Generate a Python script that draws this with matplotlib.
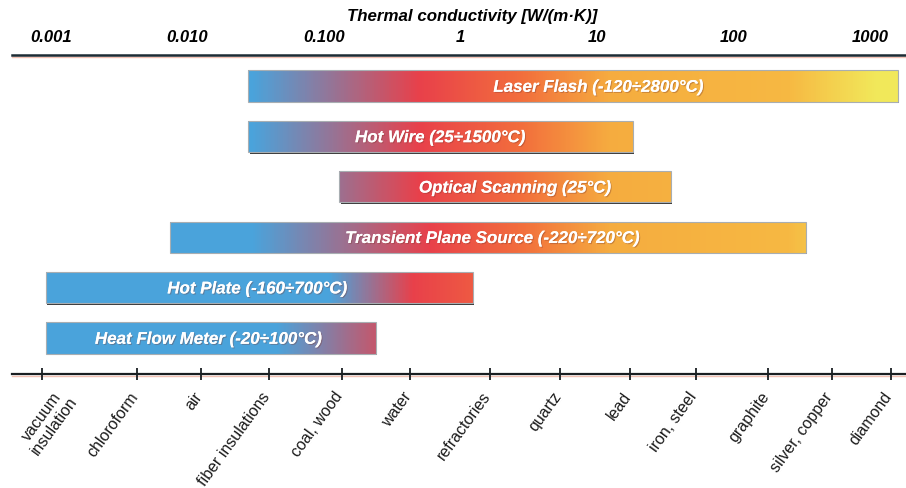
import numpy as np
import matplotlib
matplotlib.use("Agg")
import matplotlib.pyplot as plt
from matplotlib.colors import ListedColormap, to_rgb
from matplotlib.patches import Rectangle
import matplotlib.transforms as mtransforms
import matplotlib.patheffects as pe

# ---------------- data ----------------
methods = ["Laser Flash (-120÷2800°C)", "Hot Wire (25÷1500°C)",
           "Optical Scanning (25°C)", "Transient Plane Source (-220÷720°C)",
           "Hot Plate (-160÷700°C)", "Heat Flow Meter (-20÷100°C)"]
k_low = [0.028, 0.028, 0.13, 0.0075, 0.00092, 0.00092]
k_high = [1610, 18.4, 35, 340, 1.24, 0.24]

top_ticks = [0.001, 0.01, 0.1, 1, 10, 100, 1000]
top_labels = ["0.001", "0.010", "0.100", "1", "10", "100", "1000"]

materials = ["vacuum\ninsulation", "chloroform", "air", "fiber insulations",
             "coal, wood", "water", "refractories", "quartz", "lead",
             "iron, steel", "graphite", "silver, copper", "diamond"]
material_k = [0.00086, 0.0043, 0.0126, 0.040, 0.135, 0.43, 1.65, 5.4,
              17.5, 53, 180, 525, 1420]

# ---------------- style ----------------
BLUE = "#4aa3db"
RED = "#e8404a"
ORANGE_RED = "#f26e3c"
ORANGE = "#f5ac3f"
ORANGE2 = "#f6b842"
YELLOW = "#f1e85a"
# per-bar gradient: (end of pure blue, point of full red) in W/(m K)
grad_blue_end = [0.030, 0.030, 0.03, 0.030, 0.11, 0.045]
grad_red_at = [0.50, 0.50, 0.50, 0.60, 0.45, 0.40]
# label centres along the conductivity axis
label_k = [10.2, 0.71, 2.5, 1.7, 0.0324, 0.0142]


def bar_colors(xs, blue_end, red_at):
    lx = np.log10(xs)
    stops = [(np.log10(blue_end), BLUE), (np.log10(red_at), RED),
             (0.45, ORANGE_RED), (1.1, ORANGE), (2.4, ORANGE2), (3.05, YELLOW)]
    pos = np.array([s[0] for s in stops])
    cols = np.array([to_rgb(s[1]) for s in stops])
    out = np.stack([np.interp(lx, pos, cols[:, c]) for c in range(3)], axis=1)
    return out


plt.rcParams["font.family"] = ["Liberation Sans", "DejaVu Sans"]

fig = plt.figure(figsize=(9.06, 4.88), dpi=100)
ax = fig.add_axes([12 / 906, 114 / 488, 893 / 906, 319 / 488])
ax.set_xscale("log")
ax.set_xlim(5.2e-4, 1.81e3)
ax.set_ylim(5.714, -0.615)

h = 0.62
shadow_tr = mtransforms.offset_copy(ax.transData, fig=fig, x=1.2, y=-1.6, units="dots")
for i, (name, lo, hi) in enumerate(zip(methods, k_low, k_high)):
    # shadow
    ax.add_patch(Rectangle((lo, i - h / 2), hi - lo, h, transform=shadow_tr,
                           facecolor="#3a3a3a", edgecolor="none", zorder=2))
    edges = np.logspace(np.log10(lo), np.log10(hi), 301)
    centers = np.sqrt(edges[:-1] * edges[1:])
    cols = bar_colors(centers, grad_blue_end[i], grad_red_at[i])
    cmap = ListedColormap(cols)
    C = np.arange(len(centers))[None, :]
    ax.pcolormesh(edges, [i - h / 2, i + h / 2], C, cmap=cmap,
                  vmin=-0.5, vmax=len(centers) - 0.5, shading="flat", zorder=3,
                  rasterized=True)
    ax.add_patch(Rectangle((lo, i - h / 2), hi - lo, h, facecolor="none",
                           edgecolor="#a8aeb2", lw=0.8, zorder=4))
    ax.text(label_k[i], i + 0.02, name, color="white", fontsize=12.2,
            fontweight="bold", fontstyle="italic", ha="center", va="center",
            zorder=5,
            path_effects=[pe.withSimplePatchShadow(offset=(0.8, -0.8),
                                                   shadow_rgbFace="#7a3a30",
                                                   alpha=0.35), pe.Normal()])

# bottom axis
for s in ["left", "right"]:
    ax.spines[s].set_visible(False)
ax.spines["bottom"].set_color("#1a1f22")
ax.spines["bottom"].set_linewidth(1.6)
ax.spines["top"].set_color("#1c2b33")
ax.spines["top"].set_linewidth(1.8)
ax.plot([0, 1], [-2.2 / 319] * 2, transform=ax.transAxes, color="#f3c2b4",
        lw=1, clip_on=False, zorder=1)
ax.plot([0, 1], [1 - 2.2 / 319] * 2, transform=ax.transAxes, color="#f3c2b4",
        lw=1, clip_on=False, zorder=1)
ax.set_yticks([])
ax.set_xticks(material_k)
ax.xaxis.set_minor_locator(matplotlib.ticker.NullLocator())
ax.set_xticklabels([])
ax.tick_params(axis="x", which="major", direction="inout", length=9, width=1.3,
               color="#1a1f22")

# rotated material labels, anchored at the end of their baseline
base_tr = mtransforms.blended_transform_factory(ax.transData, ax.transAxes)
for k, name in zip(material_k, materials):
    if "\n" in name:
        dx, dy = 36 / 100, -27 / 100
    else:
        dx, dy = 1.5 / 100, -22.5 / 100
    tr = base_tr + mtransforms.ScaledTranslation(dx, dy, fig.dpi_scale_trans)
    ax.text(k, 0, name, transform=tr, rotation=54, rotation_mode="anchor",
            ha="right", va="baseline", multialignment="center",
            linespacing=1.0, fontsize=11.5, color="#1a1a1a", clip_on=False)

# top axis
ax2 = ax.twiny()
ax2.set_xscale("log")
ax2.set_xlim(ax.get_xlim())
ax2.set_xticks(top_ticks)
ax2.xaxis.set_minor_locator(matplotlib.ticker.NullLocator())
ax2.set_xticklabels(top_labels, fontweight="bold", fontstyle="italic")
ax2.tick_params(axis="x", which="major", length=0, pad=7, labelsize=12)
for s in ["left", "right", "bottom", "top"]:
    ax2.spines[s].set_visible(False)
ax2.set_xlabel("Thermal conductivity [W/(m·K)]", fontsize=12.2,
               fontweight="bold", fontstyle="italic")
ax2.xaxis.set_label_coords(0.515, 1.097)
ax2.xaxis.label.set_va("bottom")

fig.savefig("out.png", dpi=100)
